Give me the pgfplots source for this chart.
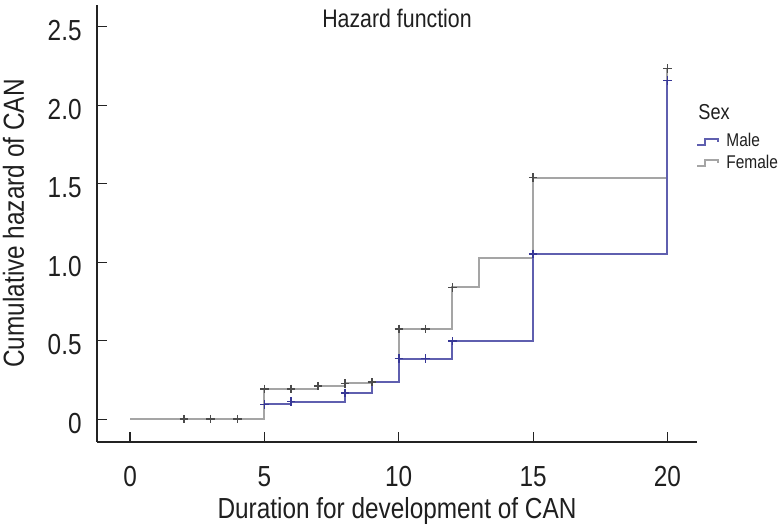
\documentclass[border=0pt]{standalone}
\usepackage{fontspec}
\setmainfont[FakeStretch=0.84]{Liberation Sans}
\usepackage{pgfplots}
\pgfplotsset{compat=1.18}
\definecolor{maleblue}{RGB}{95,95,175}
\definecolor{femgray}{RGB}{165,165,165}
\definecolor{markgray}{RGB}{75,75,75}
\definecolor{markblue}{RGB}{55,55,150}
\definecolor{axiscol}{RGB}{35,35,35}
\begin{document}
\begin{tikzpicture}
\begin{axis}[
  width=300pt, height=218.5pt, scale only axis,
  xmin=-1.23, xmax=21.1, ymin=-0.146, ymax=2.64,
  axis lines=left,
  axis line style={-, line width=0.9pt, color=axiscol},
  xtick={0,5,10,15,20},
  ytick={0,0.5,1,1.5,2,2.5},
  yticklabels={0,0.5,1.0,1.5,2.0,2.5},
  tick align=inside, major tick length=5pt,
  tick style={line width=0.55pt, color=axiscol},
  /pgf/number format/assume math mode=true,
  ticklabel style={font=\fontsize{14.5}{16}\selectfont, text=black!88, inner sep=0pt},
  xticklabel style={anchor=base, yshift=-22.5pt},
  yticklabel style={anchor=east, xshift=-7.5pt, yshift=-2pt},
  xlabel={Duration for development of CAN},
  ylabel={Cumulative hazard of CAN},
  label style={font=\fontsize{14.5}{16}\selectfont, text=black!88, inner sep=0pt},
  xlabel style={at={(axis description cs:0.5,0)}, anchor=base, yshift=-38.5pt},
  ylabel style={at={(axis description cs:-0.122,0.5)}, anchor=base, rotate=0},
  clip=false,
]
% Female cumulative hazard (step)
\addplot[const plot, color=femgray, line width=1pt] coordinates {
  (0,0) (5,0.193) (7,0.21) (8,0.228) (9,0.235) (10,0.576) (12,0.84) (13,1.025) (15,1.539) (20,2.234)
};
% Male cumulative hazard (step)
\addplot[const plot, color=maleblue, line width=1pt] coordinates {
  (5,0.094) (6,0.112) (8,0.167) (9,0.235) (10,0.386) (12,0.496) (15,1.053) (20,2.158)
};
% censor marks
\addplot[only marks, mark=+, mark size=2.1pt, color=markgray, mark options={line width=0.8pt}] coordinates {
  (2,0) (3,0) (4,0) (5,0.193) (6,0.193) (7,0.21) (8,0.228) (9,0.235) (10,0.576) (11,0.576) (12,0.84) (15,1.539) (20,2.234)
};
\addplot[only marks, mark=+, mark size=2.1pt, color=markblue, mark options={line width=0.8pt}] coordinates {
  (5,0.094) (6,0.112) (8,0.167) (10,0.386) (11,0.386) (12,0.496) (15,1.053) (20,2.158)
};
\end{axis}
% title
\node[anchor=base, inner sep=0pt, font=\fontsize{12.7}{14}\selectfont, text=black!88] at (150pt,207pt) {Hazard function};
% legend
\node[anchor=base west, inner sep=0pt, font=\fontsize{10.8}{12}\selectfont, text=black!88] at (300.5pt,161pt) {Sex};
\draw[maleblue, line width=0.9pt] (300.1pt,148.5pt) -- (304pt,148.5pt) -- (304pt,151.5pt) -- (310.6pt,151.5pt) -- (310.6pt,149.8pt);
\node[anchor=base west, inner sep=0pt, font=\fontsize{9.2}{11}\selectfont, text=black!88] at (314.5pt,147.6pt) {Male};
\draw[femgray, line width=0.9pt] (300.1pt,138pt) -- (304pt,138pt) -- (304pt,141pt) -- (310.6pt,141pt) -- (310.6pt,139.3pt);
\node[anchor=base west, inner sep=0pt, font=\fontsize{9.2}{11}\selectfont, text=black!88] at (314.5pt,136.8pt) {Female};
\pgfresetboundingbox
\path (-48.5pt,-43.5pt) rectangle (343pt,221pt);
\end{tikzpicture}
\end{document}
